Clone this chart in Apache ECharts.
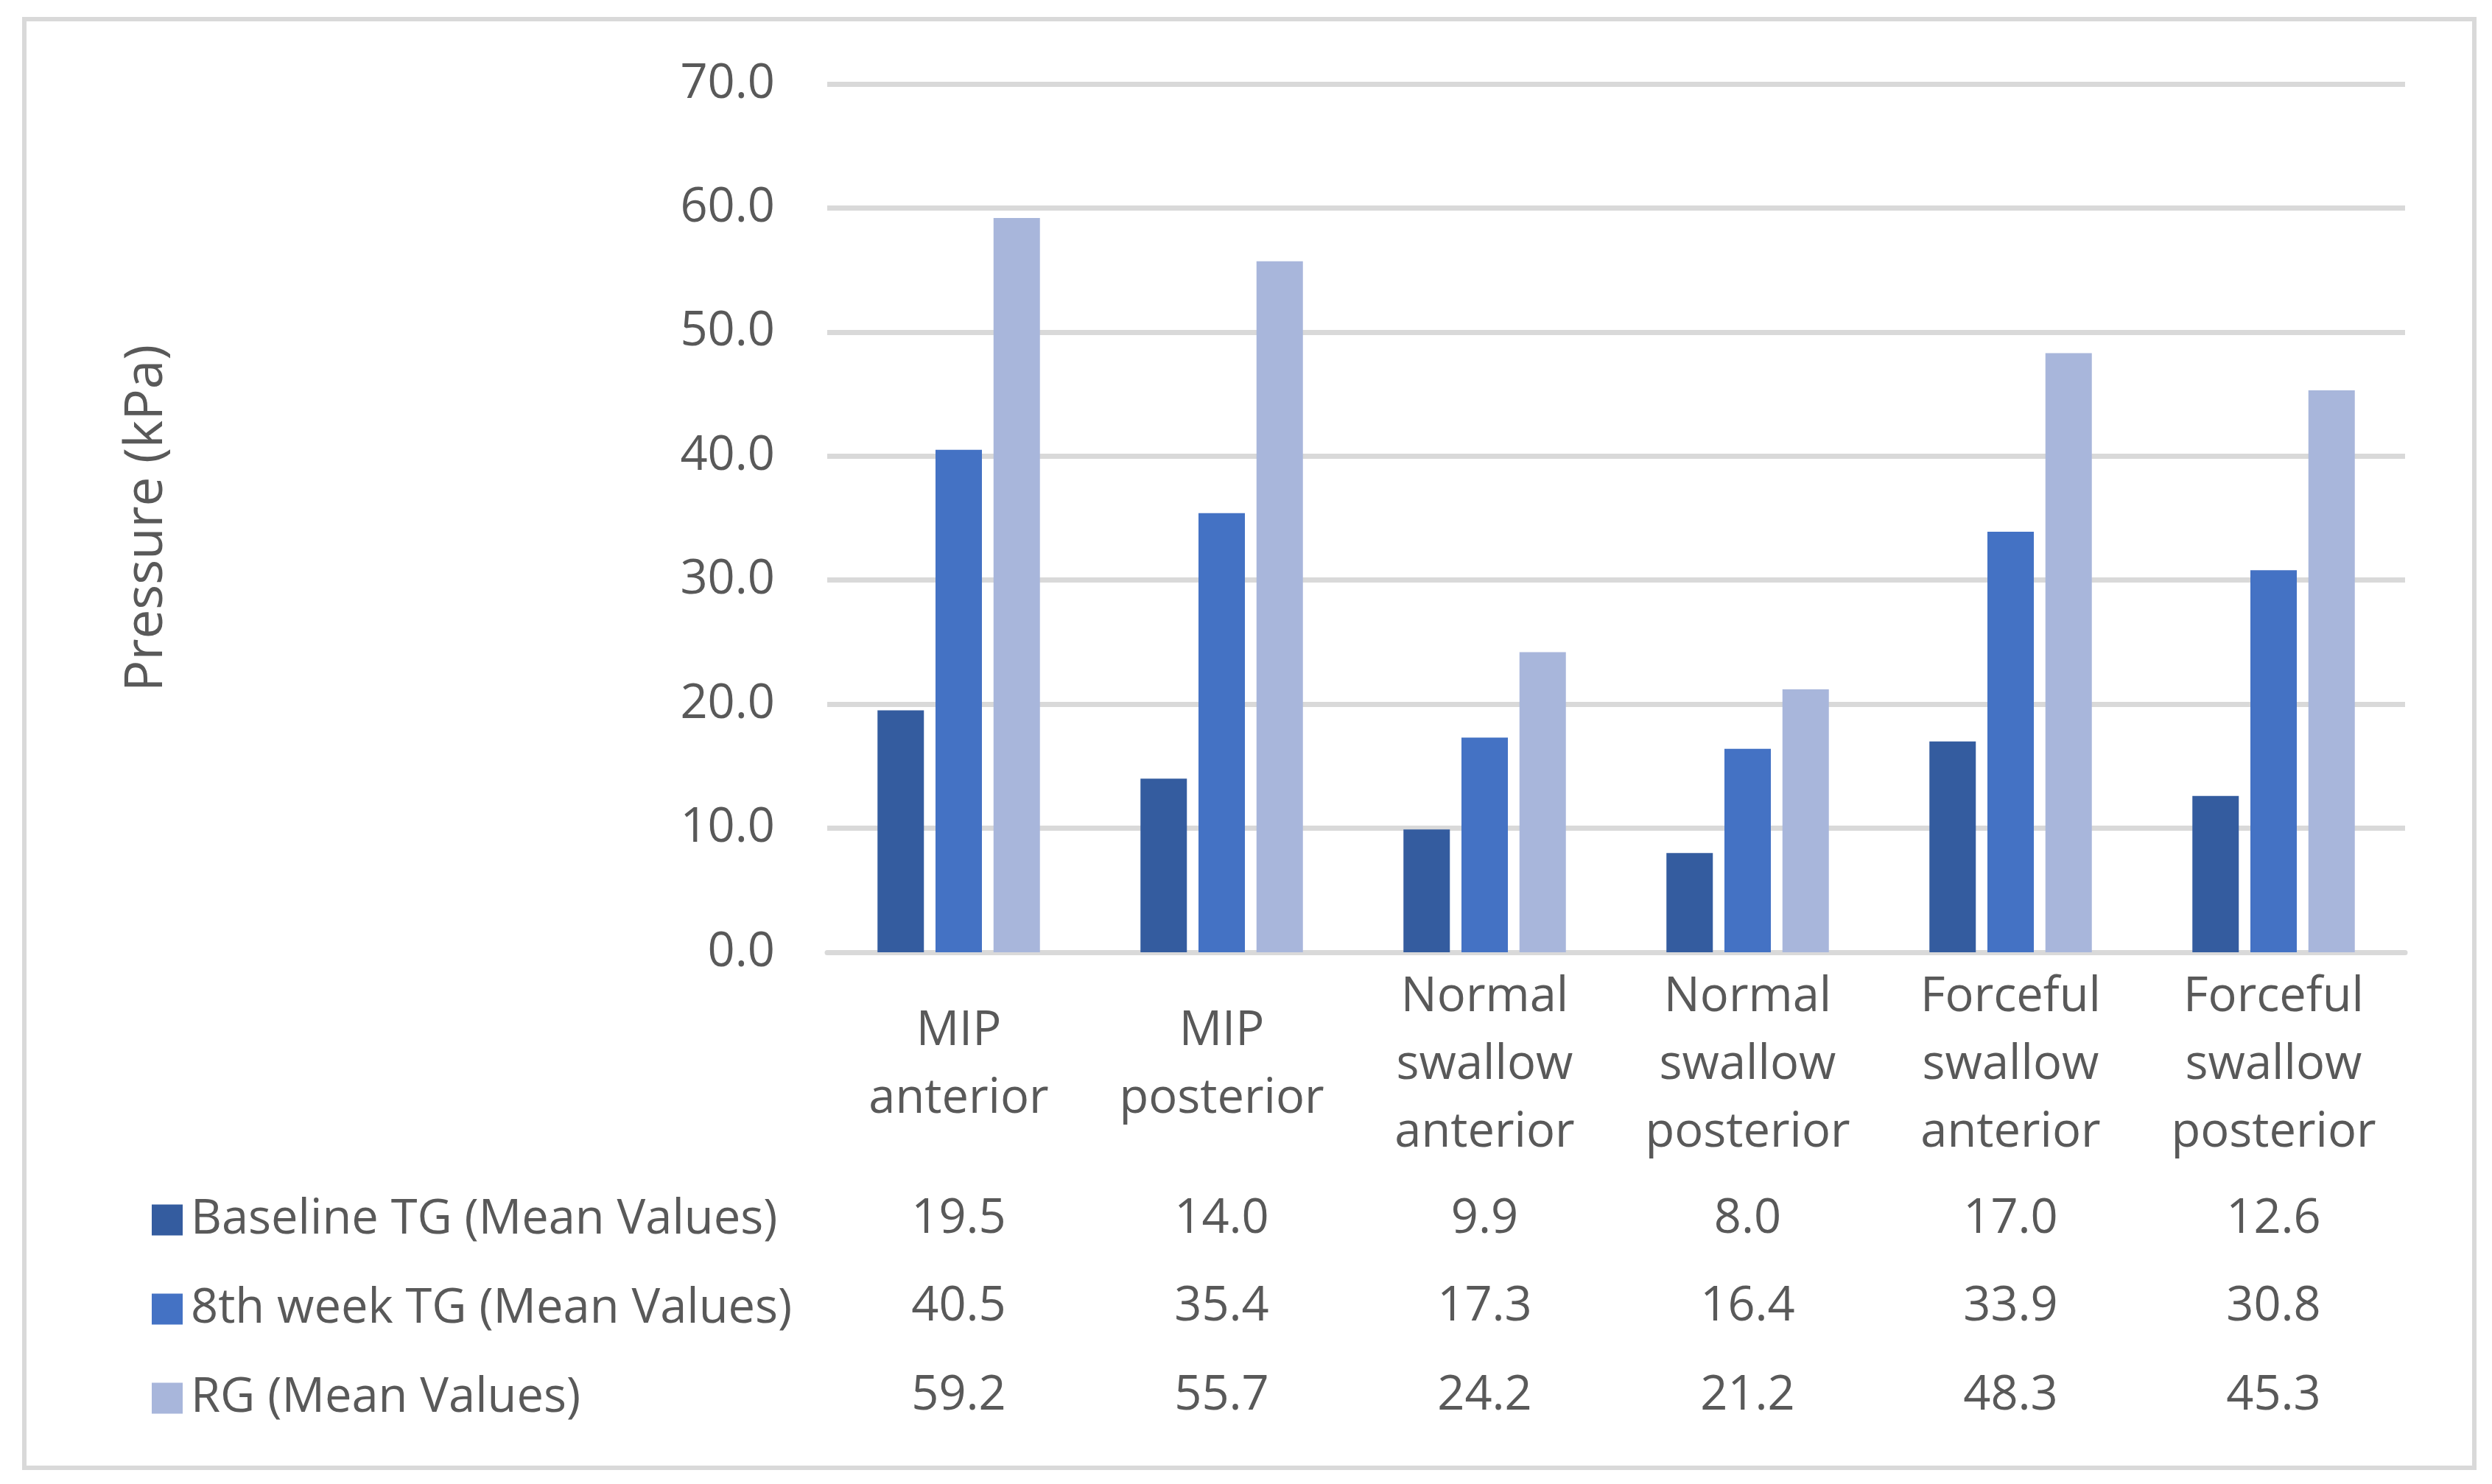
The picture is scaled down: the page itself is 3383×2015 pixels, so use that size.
<!DOCTYPE html>
<html>
<head>
<meta charset="utf-8">
<script src="https://cdn.jsdelivr.net/npm/echarts@6/dist/echarts.min.js"></script>
<style>
html, body { margin: 0; padding: 0; background: #fff; }
#chart { width: 3383px; height: 2015px; }
</style>
</head>
<body>
<div id="chart"></div>
<script>
// ---- data ----
const categories = [
  'MIP\nanterior',
  'MIP\nposterior',
  'Normal\nswallow\nanterior',
  'Normal\nswallow\nposterior',
  'Forceful\nswallow\nanterior',
  'Forceful\nswallow\nposterior'
];
const seriesNames = ['Baseline TG (Mean Values)', '8th week TG (Mean Values)', 'RG (Mean Values)'];
const baselineTG = [19.5, 14.0, 9.9, 8.0, 17.0, 12.6];
const week8TG = [40.5, 35.4, 17.3, 16.4, 33.9, 30.8];
const rg = [59.2, 55.7, 24.2, 21.2, 48.3, 45.3];
const yTicks = { min: 0, max: 70, interval: 10 };
const yAxisTitle = 'Pressure (kPa)';

// ---- styles ----
const colors = ['#345C9F', '#4472C4', '#A8B6DB'];
const textColor = '#595959';
const gridColor = '#D9D9D9';
const fontFamily = '"Open Sans", "Noto Sans", sans-serif';
const fs = 65;

const seriesData = [baselineTG, week8TG, rg];

function tableAxis(values, margin) {
  return {
    type: 'category',
    gridIndex: 0,
    position: 'bottom',
    data: categories,
    axisLine: { show: false },
    axisTick: { show: false },
    splitLine: { show: false },
    axisLabel: {
      interval: 0,
      margin: margin,
      verticalAlign: 'middle',
      fontSize: fs,
      fontFamily: fontFamily,
      color: textColor,
      formatter: function (v, i) { return values[i].toFixed(1); }
    }
  };
}

const chart = echarts.init(document.getElementById('chart'), null, { renderer: 'canvas' });
chart.setOption({
  backgroundColor: '#ffffff',
  animation: false,
  color: colors,
  textStyle: { fontFamily: fontFamily },
  graphic: [{
    type: 'rect',
    shape: { x: 33, y: 26, width: 3326, height: 1967 },
    style: { fill: 'none', stroke: gridColor, lineWidth: 6 },
    silent: true
  }],
  grid: { left: 1123, right: 118, top: 114, bottom: 722, containLabel: false },
  legend: {
    data: seriesNames,
    orient: 'vertical',
    left: 201,
    top: 1619,
    itemWidth: 42,
    itemHeight: 42,
    itemGap: 56,
    icon: 'rect',
    textStyle: { fontSize: fs, color: textColor, fontFamily: fontFamily, lineHeight: 42, padding: [0, 0, 0, 6] }
  },
  xAxis: [
    {
      type: 'category',
      data: categories,
      axisLine: { show: true, lineStyle: { color: gridColor, width: 7 } },
      axisTick: { show: false },
      axisLabel: {
        interval: 0,
        margin: 153,
        verticalAlign: 'middle',
        fontSize: fs,
        lineHeight: 92,
        fontFamily: fontFamily,
        color: textColor
      }
    },
    tableAxis(baselineTG, 362),
    tableAxis(week8TG, 481),
    tableAxis(rg, 602)
  ],
  yAxis: {
    type: 'value',
    min: yTicks.min,
    max: yTicks.max,
    interval: yTicks.interval,
    name: yAxisTitle,
    nameLocation: 'middle',
    nameRotate: 90,
    nameGap: 888,
    nameTextStyle: { fontSize: 71, color: textColor, fontFamily: fontFamily },
    axisLine: { show: false },
    axisTick: { show: false },
    splitLine: { lineStyle: { color: gridColor, width: 7 } },
    axisLabel: {
      margin: 71,
      fontSize: fs,
      fontFamily: fontFamily,
      color: textColor,
      formatter: function (v) { return v.toFixed(1); }
    }
  },
  series: seriesNames.map(function (name, i) {
    return {
      name: name,
      type: 'bar',
      xAxisIndex: 0,
      data: seriesData[i],
      barWidth: 63,
      barGap: '25%',
      itemStyle: { color: colors[i] }
    };
  })
});
</script>
</body>
</html>
